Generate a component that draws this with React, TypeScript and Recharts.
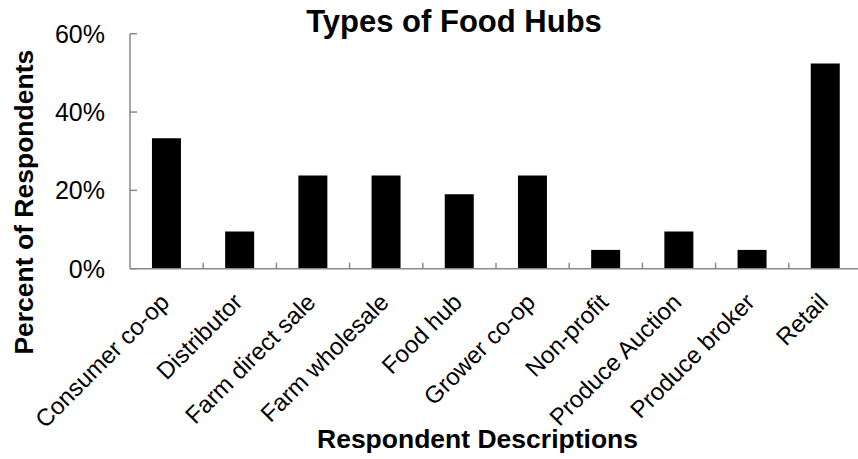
import React from 'react';
import { BarChart, Bar, XAxis, YAxis, Label } from 'recharts';

const categories = [
  'Consumer co-op',
  'Distributor',
  'Farm direct sale',
  'Farm wholesale',
  'Food hub',
  'Grower co-op',
  'Non-profit',
  'Produce Auction',
  'Produce broker',
  'Retail',
];
const percentValues = [33.3, 9.5, 23.8, 23.8, 19.0, 23.8, 4.8, 9.5, 4.8, 52.4];
const yTicks = [0, 20, 40, 60];

const data = categories.map((name, i) => ({ name, value: percentValues[i] }));

const FONT = '"Liberation Sans", Arial, Helvetica, sans-serif';
const AXIS_COLOR = '#8a8a8a';
const Y_TICK_MARGIN = 25;
const INNER_TICK = 7;

const XTick = (props: any) => {
  const { x, y, payload, width, visibleTicksCount, index } = props;
  const half =
    payload && typeof payload.offset === 'number' && payload.offset > 0
      ? payload.offset
      : width / visibleTicksCount / 2;
  return (
    <g>
      {index > 0 && (
        <line
          x1={x - half}
          x2={x - half}
          y1={y}
          y2={y - 6}
          stroke={AXIS_COLOR}
          strokeWidth={1.5}
        />
      )}
      <g transform={`translate(${x},${y})`}>
        <text
          x={4}
          y={35}
          transform="rotate(-45, 4, 35)"
          textAnchor="end"
          fontSize={24}
          fontFamily={FONT}
          fill="#000"
        >
          {payload.value}
        </text>
      </g>
    </g>
  );
};

const YTick = (props: any) => {
  const { x, y, payload } = props;
  const axisX = x + Y_TICK_MARGIN;
  return (
    <g>
      <line
        x1={axisX}
        x2={axisX + INNER_TICK}
        y1={y}
        y2={y}
        stroke={AXIS_COLOR}
        strokeWidth={1.5}
      />
      <text
        x={x}
        y={y}
        dy="0.36em"
        textAnchor="end"
        fontSize={25}
        fontFamily={FONT}
        fill="#000"
      >
        {`${payload.value}%`}
      </text>
    </g>
  );
};

const YAxisTitle = (props: any) => {
  const vb = props.viewBox || { x: 0, y: 0, width: 0, height: 0 };
  const cx = vb.x + 33;
  const cy = vb.y + vb.height / 2 + 51;
  return (
    <text
      x={cx}
      y={cy}
      transform={`rotate(-90, ${cx}, ${cy})`}
      textAnchor="middle"
      fontSize={26.5}
      fontWeight="bold"
      fontFamily={FONT}
      fill="#000"
    >
      Percent of Respondents
    </text>
  );
};

export default function App() {
  return (
    <div
      style={{
        position: 'absolute',
        left: 0,
        top: 0,
        width: 858,
        height: 459,
        overflow: 'hidden',
        background: '#fff',
      }}
    >
      <div
        style={{
          position: 'absolute',
          left: 154,
          top: 4,
          width: 600,
          textAlign: 'center',
          fontFamily: FONT,
          fontWeight: 'bold',
          fontSize: 31,
          lineHeight: 'normal',
          color: '#000',
          zIndex: 2,
        }}
      >
        Types of Food Hubs
      </div>
      <BarChart
        width={870}
        height={459}
        data={data}
        margin={{ top: 33.7, right: 8, left: 0, bottom: 0 }}
        barCategoryGap="30%"
      >
        <XAxis
          dataKey="name"
          type="category"
          interval={0}
          height={190.3}
          tickLine={false}
          tickSize={0}
          tickMargin={0}
          axisLine={{ stroke: AXIS_COLOR, strokeWidth: 1.5 }}
          tick={<XTick />}
        >
          <Label
            value="Respondent Descriptions"
            position="insideBottom"
            offset={11}
            dx={-18.5}
            style={{ fontSize: 26.5, fontWeight: 'bold', fill: '#000', fontFamily: FONT }}
          />
        </XAxis>
        <YAxis
          type="number"
          domain={[0, 60]}
          ticks={yTicks}
          width={130}
          tickLine={false}
          tickSize={0}
          tickMargin={Y_TICK_MARGIN}
          tick={<YTick />}
          axisLine={{ stroke: AXIS_COLOR, strokeWidth: 1.5 }}
        >
          <Label content={<YAxisTitle />} />
        </YAxis>
        <Bar dataKey="value" fill="#000" isAnimationActive={false} />
      </BarChart>
    </div>
  );
}
